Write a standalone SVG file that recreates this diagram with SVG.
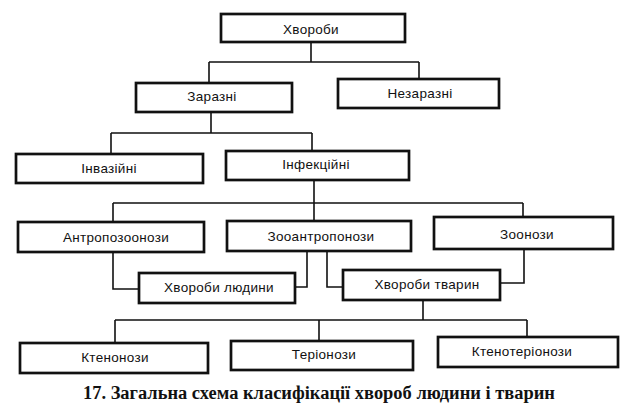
<svg xmlns="http://www.w3.org/2000/svg" width="625" height="413" viewBox="0 0 625 413">
<style>
.box{fill:#fff;stroke:#111;stroke-width:2.7}
.lbl{font-family:"Liberation Sans","DejaVu Sans",sans-serif;font-size:13.5px;fill:#111;text-anchor:middle;letter-spacing:0.3px}
.con{fill:none;stroke:#111;stroke-width:1.6}
.cap{font-family:"Liberation Serif","DejaVu Serif",serif;font-size:18.5px;font-weight:bold;fill:#111}
</style>
<rect width="625" height="413" fill="#fff"/>
<g id="connectors" class="con">
<path d="M311 42V62M209 62H419M209 62V83M419 62V79"/>
<path d="M211 112V133M111 133H312M111 133V154M312 133V151"/>
<path d="M314 180V221M113 203H523M113 203V222M523 203V217"/>
<path d="M113 252V289H139"/>
<path d="M307 251V287H295"/>
<path d="M327 251V287H343"/>
<path d="M524 249V283H500"/>
<path d="M423 300V320M115 320H527M115 320V343M319 320V341M527 320V337"/>
</g>
<g id="n1"><rect class="box" x="221" y="14" width="184" height="28"/><text class="lbl" x="311" y="34">Хвороби</text></g>
<g id="n2"><rect class="box" x="136" y="83" width="156" height="29"/><text class="lbl" x="212" y="101">Заразні</text></g>
<g id="n3"><rect class="box" x="338" y="79" width="161" height="29"/><text class="lbl" x="420" y="98">Незаразні</text></g>
<g id="n4"><rect class="box" x="16" y="154" width="187" height="29"/><text class="lbl" x="109" y="173">Інвазійні</text></g>
<g id="n5"><rect class="box" x="226" y="151" width="183" height="29"/><text class="lbl" x="316" y="169">Інфекційні</text></g>
<g id="n6"><rect class="box" x="18" y="222" width="186" height="30"/><text class="lbl" x="116" y="242">Антропозоонози</text></g>
<g id="n7"><rect class="box" x="227" y="221" width="184" height="30"/><text class="lbl" x="321" y="241">Зооантропонози</text></g>
<g id="n8"><rect class="box" x="434" y="217" width="179" height="32"/><text class="lbl" x="527" y="239">Зоонози</text></g>
<g id="n9"><rect class="box" x="139" y="273" width="156" height="30"/><text class="lbl" x="219" y="292">Хвороби людини</text></g>
<g id="n10"><rect class="box" x="343" y="270" width="157" height="30"/><text class="lbl" x="427" y="289">Хвороби тварин</text></g>
<g id="n11"><rect class="box" x="20" y="343" width="188" height="30"/><text class="lbl" x="115" y="362">Ктенонози</text></g>
<g id="n12"><rect class="box" x="231" y="341" width="182" height="29"/><text class="lbl" x="324" y="359">Теріонози</text></g>
<g id="n13"><rect class="box" x="438" y="337" width="180" height="30"/><text class="lbl" x="522" y="356">Ктенотеріонози</text></g>
<text class="cap" x="83" y="399" textLength="472" lengthAdjust="spacingAndGlyphs">17. Загальна схема класифікації хвороб людини і тварин</text>
</svg>
